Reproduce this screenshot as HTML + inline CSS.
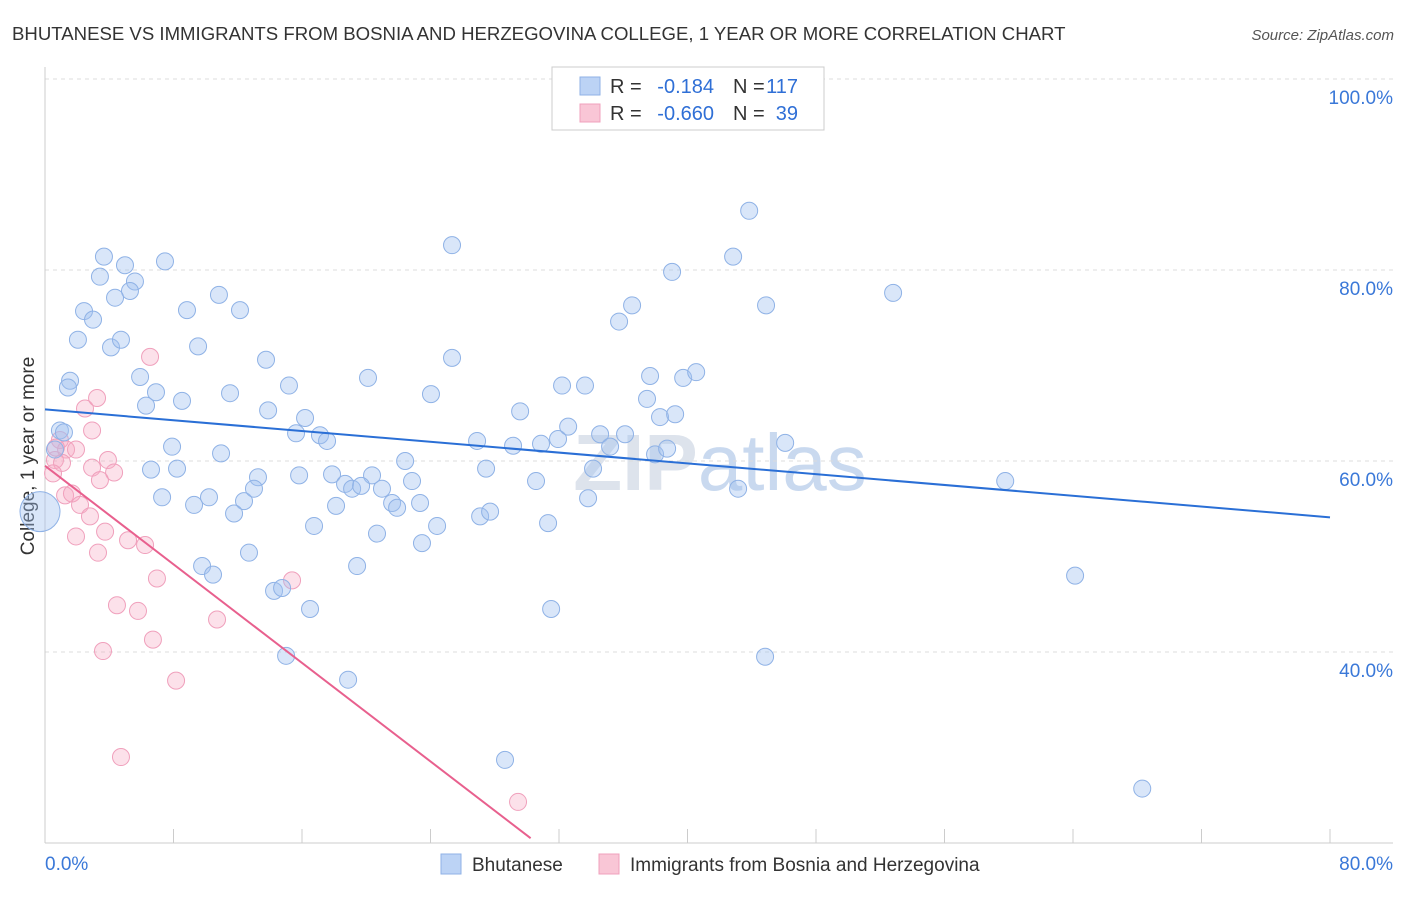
<!DOCTYPE html>
<html><head><meta charset="utf-8"><style>
body{margin:0;background:#fff;font-family:"Liberation Sans",sans-serif}
svg text{font-family:"Liberation Sans",sans-serif}
</style></head><body>
<svg id="chart" width="1406" height="892" xmlns="http://www.w3.org/2000/svg">
<text x="12" y="40" font-size="18.6" fill="#333">BHUTANESE VS IMMIGRANTS FROM BOSNIA AND HERZEGOVINA COLLEGE, 1 YEAR OR MORE CORRELATION CHART</text>
<text x="1394" y="40" font-size="15" fill="#555" text-anchor="end" font-style="italic">Source: ZipAtlas.com</text>
<text transform="translate(34,456) rotate(-90)" font-size="19" fill="#333" text-anchor="middle">College, 1 year or more</text>
<text x="720" y="490" font-size="80" fill="#dde3ec" text-anchor="middle" font-weight="bold">ZIP<tspan fill="#c9d9ef" font-weight="normal">atlas</tspan></text>
<g id="grid"></g><g id="marks"></g>
<g>
<rect x="552" y="67" width="272" height="63" fill="#fff" stroke="#ccc"/>
<rect x="580" y="77" width="20" height="18" fill="#bcd3f5" stroke="#8fb2e6"/>
<rect x="580" y="104" width="20" height="18" fill="#f9c6d6" stroke="#f0a0bc"/>
<text x="610" y="93" font-size="20" fill="#333">R =</text>
<text x="714" y="93" font-size="20" fill="#2f6fd6" text-anchor="end">-0.184</text>
<text x="733" y="93" font-size="20" fill="#333">N =</text>
<text x="798" y="93" font-size="20" fill="#2f6fd6" text-anchor="end">117</text>
<text x="610" y="120" font-size="20" fill="#333">R =</text>
<text x="714" y="120" font-size="20" fill="#2f6fd6" text-anchor="end">-0.660</text>
<text x="733" y="120" font-size="20" fill="#333">N =</text>
<text x="798" y="120" font-size="20" fill="#2f6fd6" text-anchor="end">39</text>
</g>
<g>
<rect x="441" y="854" width="20" height="20" fill="#bcd3f5" stroke="#8fb2e6"/>
<text x="472" y="871" font-size="19" fill="#333">Bhutanese</text>
<rect x="599" y="854" width="20" height="20" fill="#f9c6d6" stroke="#f0a0bc"/>
<text x="630" y="871" font-size="19" fill="#333">Immigrants from Bosnia and Herzegovina</text>
</g>
</svg>
<script>
const blueX=[3.67,4.98,7.47,3.42,5.60,5.29,4.36,2.43,2.99,8.84,10.83,12.14,2.05,4.11,4.73,9.53,13.76,5.92,1.56,1.43,11.52,6.91,6.29,8.53,15.19,13.89,16.19,15.63,17.12,17.56,7.91,10.96,6.60,8.22,13.26,15.82,17.87,18.68,20.36,22.42,22.85,20.98,19.12,19.68,18.12,21.61,21.92,23.35,7.29,9.28,10.21,12.39,13.01,11.77,16.75,20.67,24.41,23.47,12.70,9.78,10.46,19.43,14.26,14.76,16.50,15.01,18.87,20.11,24.03,25.34,25.34,26.90,27.46,29.14,29.58,30.88,31.94,32.57,34.56,35.18,36.11,34.12,30.57,27.09,27.71,31.32,33.81,31.51,28.64,32.19,33.62,35.74,36.55,39.04,37.67,37.48,38.29,39.23,39.73,40.54,37.98,38.73,42.84,43.84,44.89,46.08,43.15,44.83,52.80,59.78,64.13,68.31,0.93,0.62,1.18];
const blueY=[81.4,80.5,80.9,79.3,78.8,77.8,77.1,75.7,74.8,75.8,77.4,75.8,72.7,71.9,72.7,72.0,70.6,68.8,68.4,67.7,67.1,67.2,65.8,66.3,67.9,65.3,64.5,62.9,62.7,62.1,61.5,60.8,59.1,59.2,58.3,58.5,58.6,57.6,58.5,60.0,57.9,57.1,57.1,57.4,55.3,55.6,55.1,55.6,56.2,55.4,56.2,55.8,57.1,54.5,53.2,52.4,53.2,51.4,50.4,49.0,48.1,49.0,46.4,46.7,44.5,39.6,37.1,68.7,67.0,70.8,82.6,62.1,59.2,61.6,65.2,61.8,62.3,63.6,62.8,61.5,62.8,59.2,57.9,54.2,54.7,53.5,56.1,44.5,28.7,67.9,67.9,74.6,76.3,79.8,68.9,66.5,64.6,64.9,68.7,69.3,60.7,61.3,81.4,86.2,76.3,61.9,57.1,39.5,77.6,57.9,48.0,25.7,63.2,61.2,63.0];
const pinkX=[6.54,2.49,3.24,2.93,0.93,1.31,1.93,0.62,1.06,2.93,3.92,4.30,0.50,3.42,1.25,1.68,2.18,2.80,1.93,3.74,5.17,6.23,3.30,6.97,4.48,5.79,15.38,10.71,6.72,3.61,8.16,4.73,29.45,0.68];
const pinkY=[70.9,65.5,66.6,63.2,62.2,61.2,61.2,60.1,59.8,59.3,60.1,58.8,58.7,58.0,56.4,56.6,55.4,54.2,52.1,52.6,51.7,51.2,50.4,47.7,44.9,44.3,47.5,43.4,41.3,40.1,37.0,29.0,24.3,61.4];
const bigX=[0], bigY=[54.7];
const trendBlue=[65.4,54.1]; // y at x=0 and x=80
const trendPink=[59.5,-1.29]; // intercept, slope
const yTicks=[100,80,60,40];
const xTickLabels=["0.0%","80.0%"];
const NS="http://www.w3.org/2000/svg";
const sx=v=>45+v*(1330-45)/80, sy=v=>79+(100-v)*9.55;
function mk(t,a,p){const e=document.createElementNS(NS,t);for(const k in a)e.setAttribute(k,a[k]);p.appendChild(e);return e;}
const g=document.getElementById('grid'), m=document.getElementById('marks');
yTicks.forEach(v=>{
 const l=mk('line',{x1:45,x2:1393,y1:sy(v),y2:sy(v),stroke:'#dcdcdc','stroke-dasharray':'4,4'},g);
 
 
 const t=mk('text',{x:1393,y:sy(v)+25,'font-size':19,fill:'#3a78d8','text-anchor':'end'},g);t.textContent=v.toFixed(1)+'%';
 
 
});
mk('line',{x1:45,x2:45,y1:67,y2:843,stroke:'#ccc'},g);
mk('line',{x1:45,x2:1393,y1:843,y2:843,stroke:'#ccc'},g);
for(let i=0;i<=10;i++){const x=sx(i*8);const tk=mk('line',{x1:x,x2:x,y1:829,y2:843,stroke:'#ccc'},g);
 
 }
[[0,'start',45],[80,'end',1393]].forEach((a,i)=>{const t=mk('text',{x:a[2],y:870,'font-size':19,fill:'#3a78d8','text-anchor':a[1]},g);t.textContent=xTickLabels[i];
 
 });
pinkX.forEach((x,i)=>{const c=mk('circle',{cx:sx(x),cy:sy(pinkY[i]),r:8.5,fill:'rgba(245,170,195,0.35)',stroke:'#f0a0bc','stroke-width':1},m);
 
 });
blueX.forEach((x,i)=>{const c=mk('circle',{cx:sx(x),cy:sy(blueY[i]),r:8.5,fill:'rgba(160,192,240,0.4)',stroke:'#8fb2e6','stroke-width':1},m);
 
 });
bigX.forEach((x,i)=>{const c=mk('circle',{cx:sx(x)-5,cy:sy(bigY[i]),r:20,fill:'rgba(160,192,240,0.4)',stroke:'#8fb2e6'},m);
 
 });
const tb=mk('line',{x1:sx(0),y1:sy(trendBlue[0]),x2:sx(80),y2:sy(trendBlue[1]),stroke:'#2a6fd6','stroke-width':2},m);


const xe=(20.5-trendPink[0])/trendPink[1];
const tp=mk('line',{x1:sx(0),y1:sy(trendPink[0]),x2:sx(xe),y2:sy(trendPink[0]+trendPink[1]*xe),stroke:'#e8608e','stroke-width':2},m);


</script>
</body></html>
